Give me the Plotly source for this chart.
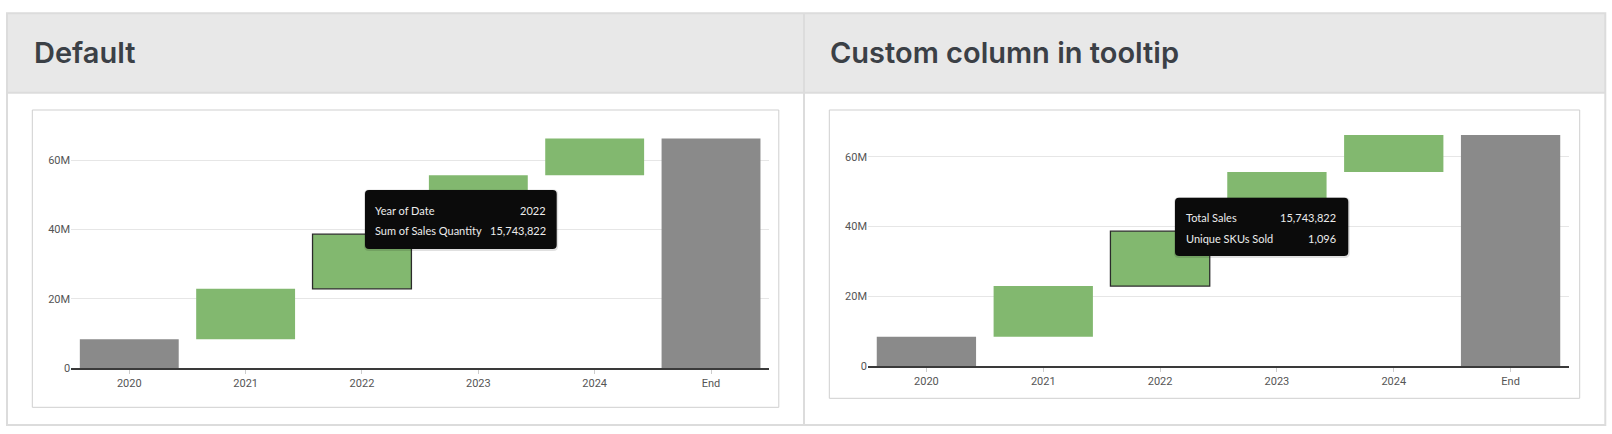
import plotly.graph_objects as go

W, H = 1612, 434

# ---------------- data ----------------
categories = ["2020", "2021", "2022", "2023", "2024", "End"]
steps = [8_400_000, 14_500_000, 15_743_822, 16_950_000, 10_600_000]
highlight_index = 2
unique_skus_2022 = 1096
panel_titles = ["Default", "Custom column in tooltip"]
tooltip_labels_default = ["Year of Date", "Sum of Sales Quantity"]
tooltip_labels_custom = ["Total Sales", "Unique SKUs Sold"]
y_tick_step = 20_000_000
y_max = 70_000_000

# ---------------- styles ----------------
GREEN = "#82b86f"
GREY = "#8a8a8a"
BORDER = "#dcdcdc"
HEADER_BG = "#e8e8e8"
TITLE_COLOR = "#3b4046"
TICK_COLOR = "#555555"


def fx(x):
    return x / W


def fy(y):
    return 1 - y / H


# waterfall construction (bases + heights) from the step values
bases, heights = [], []
running = 0
for i, v in enumerate(steps):
    bases.append(0 if i == 0 else running)
    heights.append(v)
    running += v
bases.append(0)
heights.append(running)
colors = [GREY] + [GREEN] * (len(steps) - 1) + [GREY]
line_w = [1.3 if i == highlight_index else 0 for i in range(len(categories))]
line_c = ["#2b2b2b" if i == highlight_index else "rgba(0,0,0,0)" for i in range(len(categories))]

panels = [
    dict(x0=71.1, x1=769.2, y_zero=368.3, y_top=125.3,
         box=(32.3, 110, 778.8, 407.3),
         tip=(365, 190, 556.7, 249), tip_text_x=(373.5, 546.5), tip_rows=(210, 230),
         labels=tooltip_labels_default,
         values=[categories[highlight_index], f"{steps[highlight_index]:,}"],
         title_x=32.5),
    dict(x0=868.0, x1=1569.0, y_zero=366.0, y_top=121.8,
         box=(829.3, 110, 1579.7, 398.3),
         tip=(1175, 197.7, 1348.3, 256), tip_text_x=(1185, 1337), tip_rows=(217.3, 238.3),
         labels=tooltip_labels_custom,
         values=[f"{steps[highlight_index]:,}", f"{unique_skus_2022:,}"],
         title_x=829.3),
]

fig = go.Figure()
shapes = []
annotations = []

# outer table
shapes.append(dict(type="rect", xref="paper", yref="paper",
                   x0=fx(7), x1=fx(1605.3), y0=fy(13.3), y1=fy(92.7),
                   fillcolor=HEADER_BG, line=dict(width=0), layer="below"))
shapes.append(dict(type="rect", xref="paper", yref="paper",
                   x0=fx(7), x1=fx(1605.3), y0=fy(13.3), y1=fy(425),
                   fillcolor="rgba(0,0,0,0)", line=dict(color=BORDER, width=2), layer="below"))
shapes.append(dict(type="line", xref="paper", yref="paper",
                   x0=fx(7), x1=fx(1605.3), y0=fy(92.7), y1=fy(92.7),
                   line=dict(color=BORDER, width=2), layer="below"))
shapes.append(dict(type="line", xref="paper", yref="paper",
                   x0=fx(804), x1=fx(804), y0=fy(13.3), y1=fy(425),
                   line=dict(color=BORDER, width=2), layer="below"))


def rounded_path(x0, y0, x1, y1, r=4):
    rx, ry = r / W, r / H
    X0, X1, Y0, Y1 = fx(x0), fx(x1), fy(y0), fy(y1)
    return (f"M {X0+rx},{Y0} L {X1-rx},{Y0} Q {X1},{Y0} {X1},{Y0-ry} "
            f"L {X1},{Y1+ry} Q {X1},{Y1} {X1-rx},{Y1} "
            f"L {X0+rx},{Y1} Q {X0},{Y1} {X0},{Y1+ry} "
            f"L {X0},{Y0-ry} Q {X0},{Y0} {X0+rx},{Y0} Z")


for k, p in enumerate(panels):
    ax = "" if k == 0 else str(k + 1)
    fig.add_trace(go.Bar(
        x=categories, y=heights, base=bases,
        marker=dict(color=colors, line=dict(color=line_c, width=line_w)),
        xaxis="x" + ax, yaxis="y" + ax, showlegend=False, hoverinfo="skip",
    ))
    xd = [fx(p["x0"]), fx(p["x1"])]
    yd = [fy(p["y_zero"]), fy(p["y_top"])]
    fig.update_layout(**{
        "xaxis" + ax: dict(domain=xd, anchor="y" + ax, type="category", automargin=False,
                           showgrid=False, showline=True, linecolor="#3a3a3a", linewidth=1.5,
                           ticks="outside", ticklen=4, tickcolor="#cccccc", tickwidth=1,
                           tickfont=dict(family="Roboto", size=11, color=TICK_COLOR),
                           zeroline=False, fixedrange=True),
        "yaxis" + ax: dict(domain=yd, anchor="x" + ax, range=[0, y_max], automargin=False,
                           tick0=0, dtick=y_tick_step, tickformat="~s",
                           showgrid=True, gridcolor="#e6e6e6", gridwidth=1,
                           showline=False, zeroline=False, ticks="",
                           tickfont=dict(family="Roboto", size=11, color=TICK_COLOR),
                           fixedrange=True),
    })
    bx0, by0, bx1, by1 = p["box"]
    shapes.append(dict(type="rect", xref="paper", yref="paper",
                       x0=fx(bx0), x1=fx(bx1), y0=fy(by0), y1=fy(by1),
                       fillcolor="rgba(0,0,0,0)", line=dict(color="#cfcfcf", width=1), layer="below"))
    # tooltip (shadow + box)
    tx0, ty0, tx1, ty1 = p["tip"]
    shapes.append(dict(type="path", xref="paper", yref="paper",
                       path=rounded_path(tx0 - 1, ty0 - 0.5, tx1 + 1.5, ty1 + 2, 5),
                       fillcolor="rgba(0,0,0,0.12)", line=dict(width=0), layer="above"))
    shapes.append(dict(type="path", xref="paper", yref="paper",
                       path=rounded_path(tx0, ty0, tx1, ty1, 4),
                       fillcolor="#0b0b0b", line=dict(width=0), layer="above"))
    for lab, val, ry in zip(p["labels"], p["values"], p["tip_rows"]):
        annotations.append(dict(xref="paper", yref="paper", x=fx(p["tip_text_x"][0]), y=fy(ry),
                                xanchor="left", yanchor="middle", text=lab, showarrow=False,
                                borderpad=0,
                                font=dict(family="Lato", size=11, color="#ececec")))
        annotations.append(dict(xref="paper", yref="paper", x=fx(p["tip_text_x"][1]), y=fy(ry),
                                xanchor="right", yanchor="middle", text=val, showarrow=False,
                                borderpad=0,
                                font=dict(family="Lato", size=11, color="#ececec")))
    annotations.append(dict(xref="paper", yref="paper", x=fx(p["title_x"]), y=fy(53),
                            xanchor="left", yanchor="middle", text=panel_titles[k], showarrow=False,
                            borderpad=0,
                            font=dict(family="Inter", size=29, color=TITLE_COLOR, weight=600)))

fig.update_layout(
    width=W, height=H, margin=dict(l=0, r=0, t=0, b=0, pad=0, autoexpand=False),
    paper_bgcolor="white", plot_bgcolor="rgba(0,0,0,0)",
    bargap=0.15, shapes=shapes, annotations=annotations,
    hovermode=False, showlegend=False,
)

post = """
var de = document.documentElement, b = document.body;
[de, b].forEach(function(e){ e.style.margin='0'; e.style.padding='0'; e.style.overflow='hidden'; });
var g = document.getElementById('{plot_id}');
g.style.position='fixed'; g.style.top='0'; g.style.left='0';
"""

fig.write_html("out.html", config={"displayModeBar": False}, post_script=post)
